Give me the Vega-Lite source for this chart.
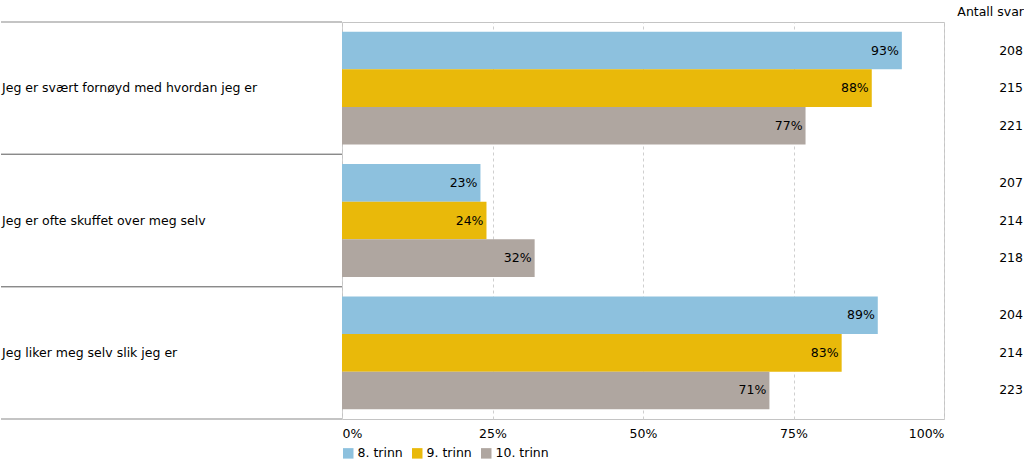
{
  "$schema": "https://vega.github.io/schema/vega-lite/v6.json",
  "autosize": {"type": "pad"},
  "padding": {"top": 5, "left": 0, "right": 0, "bottom": 0},
  "bounds": "flush",
  "spacing": 0,
  "background": "white",
  "config": {
    "font": "DejaVu Sans",
    "view": {"stroke": null},
    "text": {"font": "DejaVu Sans", "fontSize": 12.5, "color": "#000000"},
    "axis": {"labelFont": "DejaVu Sans", "labelFontSize": 12.5, "labelColor": "#000000"},
    "legend": {"labelFont": "DejaVu Sans", "labelFontSize": 12.5, "labelColor": "#000000"},
    "title": {"font": "DejaVu Sans", "fontSize": 12.5, "fontWeight": "normal", "color": "#000000"}
  },
  "data": {
    "values": [
      {"question": "Jeg er svært fornøyd med hvordan jeg er", "trinn": "8. trinn", "pct": 0.93, "n": 208},
      {"question": "Jeg er svært fornøyd med hvordan jeg er", "trinn": "9. trinn", "pct": 0.88, "n": 215},
      {"question": "Jeg er svært fornøyd med hvordan jeg er", "trinn": "10. trinn", "pct": 0.77, "n": 221},
      {"question": "Jeg er ofte skuffet over meg selv", "trinn": "8. trinn", "pct": 0.23, "n": 207},
      {"question": "Jeg er ofte skuffet over meg selv", "trinn": "9. trinn", "pct": 0.24, "n": 214},
      {"question": "Jeg er ofte skuffet over meg selv", "trinn": "10. trinn", "pct": 0.32, "n": 218},
      {"question": "Jeg liker meg selv slik jeg er", "trinn": "8. trinn", "pct": 0.89, "n": 204},
      {"question": "Jeg liker meg selv slik jeg er", "trinn": "9. trinn", "pct": 0.83, "n": 214},
      {"question": "Jeg liker meg selv slik jeg er", "trinn": "10. trinn", "pct": 0.71, "n": 223}
    ]
  },
  "hconcat": [
    {
      "width": 341,
      "height": 397,
      "transform": [{"filter": "datum.trinn === '8. trinn'"}],
      "encoding": {
        "y": {
          "field": "question", "type": "nominal", "sort": null,
          "scale": {"paddingInner": 0, "paddingOuter": 0},
          "axis": null
        }
      },
      "layer": [
        {"mark": {"type": "rule", "color": "#8a8a8a", "strokeWidth": 1.2},
         "encoding": {"y": {"field": "question", "type": "nominal", "sort": null, "bandPosition": 0}}},
        {"mark": {"type": "rule", "color": "#8a8a8a", "strokeWidth": 1.2},
         "encoding": {"y": {"field": "question", "type": "nominal", "sort": null, "bandPosition": 1}}},
        {"mark": {"type": "text", "align": "left", "baseline": "middle", "dx": 1},
         "encoding": {
           "x": {"datum": 0, "type": "quantitative", "scale": {"domain": [0, 1]}, "axis": null},
           "text": {"field": "question"}
         }}
      ]
    },
    {
      "width": 602,
      "height": 397,
      "view": {"stroke": "#c4c4c4", "strokeWidth": 1},
      "encoding": {
        "y": {
          "field": "question", "type": "nominal", "sort": null,
          "scale": {"paddingInner": 0, "paddingOuter": 0},
          "axis": null
        },
        "yOffset": {
          "field": "trinn", "type": "nominal", "sort": ["8. trinn", "9. trinn", "10. trinn"],
          "scale": {"paddingInner": 0, "paddingOuter": 0.26}
        },
        "x": {
          "field": "pct", "type": "quantitative",
          "scale": {"domain": [0, 1], "nice": false},
          "axis": {
            "title": null, "format": "%", "values": [0, 0.25, 0.5, 0.75, 1],
            "labelFlush": true, "ticks": false, "domain": false,
            "grid": true, "gridColor": "#cfcfcf", "gridDash": [3, 3], "gridWidth": 1,
            "labelPadding": 8
          }
        }
      },
      "layer": [
        {
          "mark": {"type": "bar"},
          "encoding": {
            "color": {
              "field": "trinn", "type": "nominal",
              "sort": ["8. trinn", "9. trinn", "10. trinn"],
              "scale": {"domain": ["8. trinn", "9. trinn", "10. trinn"], "range": ["#8dc1de", "#e9b90a", "#afa6a0"]},
              "legend": {
                "title": null, "orient": "none", "direction": "horizontal",
                "legendX": 341, "legendY": 425,
                "symbolType": "square", "symbolSize": 110, "symbolStrokeWidth": 0,
                "columnPadding": 8, "labelOffset": 3
              }
            }
          }
        },
        {
          "mark": {"type": "text", "align": "right", "baseline": "middle", "dx": -3},
          "encoding": {"text": {"field": "pct", "format": ".0%"}}
        }
      ]
    },
    {
      "width": 81,
      "height": 397,
      "title": {"text": "Antall svar", "anchor": "end", "offset": 4, "dx": -1},
      "encoding": {
        "y": {
          "field": "question", "type": "nominal", "sort": null,
          "scale": {"paddingInner": 0, "paddingOuter": 0},
          "axis": null
        },
        "yOffset": {
          "field": "trinn", "type": "nominal", "sort": ["8. trinn", "9. trinn", "10. trinn"],
          "scale": {"paddingInner": 0, "paddingOuter": 0.26}
        }
      },
      "layer": [
        {
          "mark": {"type": "text", "align": "right", "baseline": "middle", "dx": -2},
          "encoding": {
            "x": {"datum": 1, "type": "quantitative", "scale": {"domain": [0, 1]}, "axis": null},
            "text": {"field": "n"}
          }
        }
      ]
    }
  ]
}
